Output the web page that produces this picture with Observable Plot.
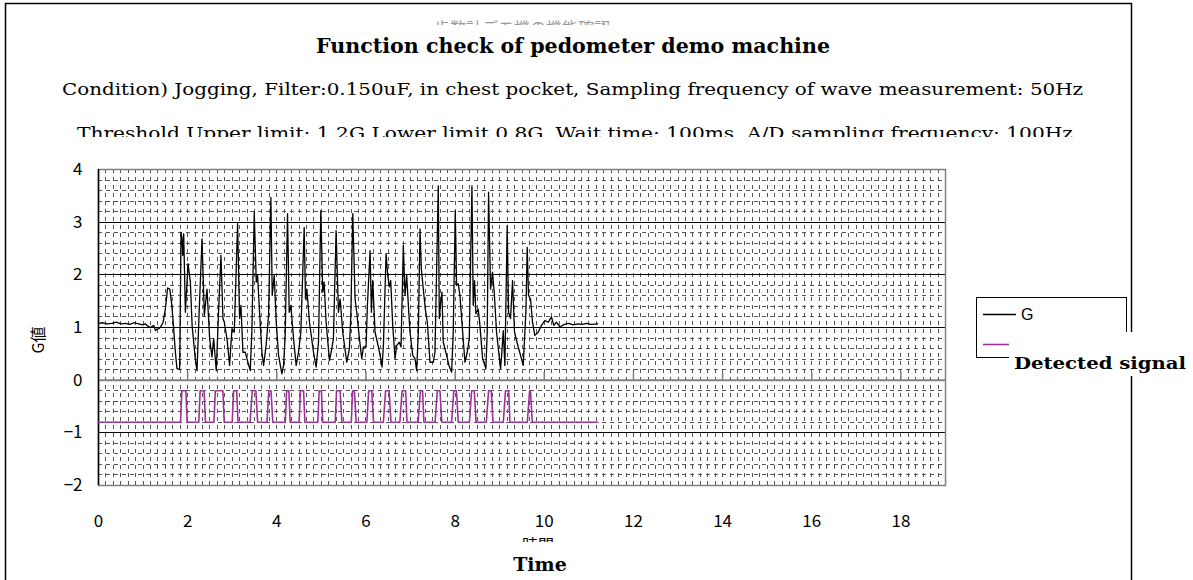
<!DOCTYPE html>
<html><head><meta charset="utf-8">
<script src="https://cdn.jsdelivr.net/npm/d3@7"></script>
<script src="https://cdn.jsdelivr.net/npm/@observablehq/plot@0.6"></script>
<style>
html,body{margin:0;padding:0;background:#fff;}
#chart{position:relative;width:1193px;height:580px;overflow:hidden;background:#fff;}
</style></head><body><div id="chart"></div>
<script>
// ---- data ----
const gTime = [0.00,0.10,0.20,0.30,0.40,0.50,0.60,0.70,0.80,0.90,1.00,1.05,1.10,1.165,1.24,1.28,1.31,1.36,1.40,1.45,1.50,1.55,1.60,1.645,1.68,1.725,1.76,1.82,1.852,1.874,1.889,1.911,1.949,2.008,2.061,2.10,2.17,2.21,2.255,2.322,2.374,2.434,2.493,2.545,2.583,2.642,2.69,2.747,2.792,2.822,2.882,2.941,2.994,3.046,3.12,3.165,3.195,3.24,3.292,3.33,3.404,3.44,3.494,3.539,3.568,3.613,3.666,3.703,3.76,3.815,3.867,3.897,3.942,3.987,4.039,4.113,4.151,4.188,4.24,4.278,4.315,4.375,4.434,4.487,4.539,4.614,4.643,4.673,4.733,4.823,4.882,4.935,4.987,5.031,5.061,5.106,5.181,5.233,5.27,5.33,5.382,5.42,5.479,5.569,5.629,5.66,5.704,5.756,5.793,5.853,5.905,5.943,6.002,6.032,6.092,6.122,6.152,6.204,6.279,6.331,6.361,6.391,6.451,6.488,6.525,6.555,6.60,6.652,6.689,6.749,6.786,6.838,6.876,6.913,6.951,6.988,7.048,7.10,7.137,7.175,7.212,7.242,7.286,7.331,7.376,7.436,7.51,7.548,7.622,7.645,7.675,7.704,7.734,7.809,7.861,7.921,7.958,8.003,8.033,8.07,8.108,8.152,8.22,8.272,8.317,8.377,8.406,8.436,8.466,8.518,8.556,8.616,8.69,8.72,8.75,8.795,8.839,8.877,8.929,9.019,9.049,9.079,9.116,9.168,9.198,9.243,9.288,9.332,9.415,9.467,9.527,9.587,9.617,9.646,9.691,9.736,9.788,9.863,9.937,10.012,10.087,10.161,10.214,10.273,10.348,10.45,10.55,10.65,10.75,10.85,10.95,11.05,11.20];
const gValue = [1.08,1.09,1.07,1.08,1.10,1.07,1.08,1.06,1.09,1.07,1.05,1.07,1.03,1.00,1.04,0.94,0.97,0.98,1.02,1.10,1.35,1.75,1.73,1.42,1.04,0.53,0.22,0.20,2.81,2.68,2.37,2.78,1.29,2.21,1.86,1.04,0.41,0.18,1.23,2.68,1.23,1.73,0.79,0.44,0.79,0.18,1.23,2.37,1.17,1.10,0.79,0.28,0.98,0.91,2.97,1.17,1.42,0.53,0.53,0.41,0.18,0.91,3.19,1.86,1.99,1.29,0.53,0.28,0.66,1.23,3.47,1.61,1.99,1.10,0.47,0.12,0.28,0.85,3.16,1.29,1.42,0.79,0.28,0.53,0.91,2.90,1.54,1.73,1.10,0.53,0.25,0.72,3.22,1.67,1.86,1.10,0.37,0.60,0.79,2.84,1.29,1.54,0.91,0.34,0.60,1.23,3.16,1.54,1.29,0.79,0.41,0.63,0.63,1.42,2.46,1.29,1.89,0.91,0.63,0.41,0.25,0.66,2.40,1.99,1.77,1.89,1.04,0.41,0.66,0.72,0.63,2.56,1.61,1.99,1.42,0.91,0.47,0.41,0.18,0.91,2.87,2.11,1.73,1.35,1.10,0.34,0.34,0.53,3.69,1.17,1.48,1.67,0.72,0.47,0.28,0.15,0.91,3.22,1.80,1.83,1.61,1.10,0.34,0.53,0.79,3.69,1.42,1.89,1.26,1.35,1.04,0.41,0.22,0.91,3.57,1.73,2.05,1.67,0.91,0.22,0.53,0.94,0.28,2.94,1.29,1.17,1.89,0.91,0.63,0.47,0.28,1.29,2.52,1.61,1.54,1.10,0.85,0.91,1.04,1.13,1.10,1.20,1.04,1.10,1.01,1.06,1.08,1.05,1.07,1.06,1.08,1.06,1.07];

// detected signal: vertices (time, level)
const sigTime = [0,1.84,1.87,1.96,1.99,2.25,2.28,2.37,2.40,2.59,2.62,2.79,2.82,3.00,3.03,3.10,3.13,3.40,3.45,3.53,3.57,3.78,3.82,3.87,3.91,4.19,4.22,4.27,4.30,4.50,4.53,4.60,4.63,4.92,4.95,5.00,5.03,5.31,5.34,5.42,5.46,5.67,5.70,5.74,5.78,6.02,6.06,6.13,6.17,6.39,6.44,6.52,6.56,6.76,6.81,6.89,6.92,7.17,7.22,7.27,7.30,7.55,7.60,7.66,7.70,7.92,7.97,8.03,8.07,8.32,8.37,8.43,8.47,8.70,8.75,8.81,8.85,9.08,9.13,9.20,9.23,9.62,9.67,9.69,9.73,11.20];
const sigValue = [-0.8].concat(...Array.from({length:21},()=>[-0.8,-0.2,-0.2,-0.8]), [-0.8]);

const xTicks = [0,2,4,6,8,10,12,14,16,18];
const yTicks = [-2,-1,0,1,2,3,4];
const yMajor = [-1,1,2,3];

const titleText = "Function check of pedometer demo machine";
const line2Text = "Condition) Jogging, Filter:0.150uF, in chest pocket, Sampling frequency of wave measurement: 50Hz";
const line3Text = "Threshold Upper limit; 1.2G Lower limit 0.8G, Wait time; 100ms, A/D sampling frequency; 100Hz";
const jpTitle = "歩数計デモ機の機能確認";
const yLabel = "G値";
const xLabelJp = "時間";
const xLabelEn = "Time";
const legendG = "G";
const legendSig = "Detected signal";

// ---- build tables ----
const gData = gTime.map((t,i)=>({t, v:gValue[i]}));
const sigData = sigTime.map((t,i)=>({t, v:sigValue[i]}));
const yMinor = d3.range(-2, 4.001, 0.2).map(v=>+v.toFixed(2)).filter(v=>Math.abs(v-Math.round(v))>1e-6);
const xMinor = d3.range(1, 114).map(i=>i/6);
const fmt = d => d < 0 ? "\u2212" + (-d) : String(d);

const plot = Plot.plot({
  width: 1193, height: 580,
  marginLeft: 98, marginRight: 248, marginTop: 169, marginBottom: 95,
  style: {fontFamily: "'Noto Sans CJK JP', sans-serif", fontSize: "17px", color: "#000", background: "transparent", overflow: "visible"},
  x: {domain: [0, 19], ticks: xTicks, tickSize: 0, tickPadding: 29, tickFormat: fmt, label: null},
  y: {domain: [-2, 4], ticks: yTicks, tickSize: 0, tickPadding: 16, tickFormat: fmt, label: null},
  marks: [
    Plot.ruleY(yMinor, {stroke: "#555", strokeWidth: 1, strokeDasharray: "4,4", shapeRendering: "crispEdges"}),
    Plot.ruleX(xMinor, {stroke: "#555", strokeWidth: 1, strokeDasharray: "4,4", shapeRendering: "crispEdges"}),
    Plot.ruleY(yMajor, {stroke: "#000", strokeWidth: 1, shapeRendering: "crispEdges"}),
    Plot.ruleY([0], {stroke: "#808080", strokeWidth: 2}),
    Plot.ruleX(xTicks.slice(1), {y1: 0, y2: 0.15, stroke: "#808080", strokeWidth: 1.5}),
    Plot.frame({stroke: "#808080", strokeWidth: 1.5}),
    Plot.ruleX([0], {stroke: "#000", strokeWidth: 1.5}),
    Plot.line(sigData, {x: "t", y: "v", stroke: "#993399", strokeWidth: 1.6}),
    Plot.line(gData, {x: "t", y: "v", stroke: "#000", strokeWidth: 1.3})
  ]
});
document.getElementById("chart").appendChild(plot);

// ---- chart decorations (texts, frame, legend) ----
const svg = d3.select(plot);
const defs = svg.append("defs");
defs.append("clipPath").attr("id","clipTop").append("rect").attr("x",300).attr("y",19).attr("width",500).attr("height",6);
defs.append("clipPath").attr("id","clipL3").append("rect").attr("x",0).attr("y",110).attr("width",1193).attr("height",27);
defs.append("clipPath").attr("id","clipXjp").append("rect").attr("x",480).attr("y",536).attr("width",120).attr("height",6);

svg.append("rect").attr("x",5.5).attr("y",3.5).attr("width",1126).attr("height",600)
  .attr("fill","none").attr("stroke","#000").attr("stroke-width",1.5);

const serif = "'DejaVu Serif', 'Liberation Serif', serif";
const deco = svg.append("g").attr("text-anchor","start");
deco.append("text").text(jpTitle).attr("x",522).attr("y",34).attr("text-anchor","middle")
  .attr("font-family","'Noto Sans CJK JP'").attr("font-size",16).attr("fill","#999").attr("clip-path","url(#clipTop)");
deco.append("text").text(titleText).attr("x",316).attr("y",53).attr("textLength",514).attr("lengthAdjust","spacingAndGlyphs")
  .attr("font-family",serif).attr("font-weight","bold").attr("font-size",20).attr("fill","#000");
deco.append("text").text(line2Text).attr("x",62).attr("y",95).attr("textLength",1021).attr("lengthAdjust","spacingAndGlyphs")
  .attr("font-family",serif).attr("font-size",17.5).attr("fill","#000");
deco.append("text").text(line3Text).attr("x",77).attr("y",139).attr("textLength",996).attr("lengthAdjust","spacingAndGlyphs")
  .attr("font-family",serif).attr("font-size",17.5).attr("fill","#000").attr("clip-path","url(#clipL3)");

deco.append("text").text(yLabel).attr("transform","translate(44,340) rotate(-90)").attr("text-anchor","middle")
  .attr("font-family","'Noto Sans CJK JP'").attr("font-size",16).attr("fill","#000");
deco.append("text").text(xLabelJp).attr("x",538).attr("y",551).attr("text-anchor","middle")
  .attr("font-family","'Noto Sans CJK JP'").attr("font-size",16).attr("fill","#000").attr("clip-path","url(#clipXjp)");
deco.append("text").text(xLabelEn).attr("x",540).attr("y",571).attr("text-anchor","middle")
  .attr("font-family",serif).attr("font-weight","bold").attr("font-size",19).attr("fill","#000");

// legend
const lg = svg.append("g").attr("text-anchor","start");
lg.append("rect").attr("x",976.5).attr("y",297.5).attr("width",150).attr("height",60)
  .attr("fill","#fff").attr("stroke","#000").attr("stroke-width",1);
lg.append("line").attr("x1",983).attr("x2",1016).attr("y1",314.5).attr("y2",314.5).attr("stroke","#000").attr("stroke-width",1.3);
lg.append("text").text(legendG).attr("x",1021).attr("y",320).attr("font-family","'Liberation Sans', Arial, sans-serif").attr("font-size",16).attr("fill","#000");
lg.append("line").attr("x1",983).attr("x2",1009).attr("y1",344.5).attr("y2",344.5).attr("stroke","#993399").attr("stroke-width",1.6);
lg.append("rect").attr("x",1009).attr("y",332).attr("width",184).attr("height",44).attr("fill","#fff");
lg.append("text").text(legendSig).attr("x",1014).attr("y",369).attr("textLength",172).attr("lengthAdjust","spacingAndGlyphs")
  .attr("font-family",serif).attr("font-weight","bold").attr("font-size",17.5).attr("fill","#000");
</script></body></html>
